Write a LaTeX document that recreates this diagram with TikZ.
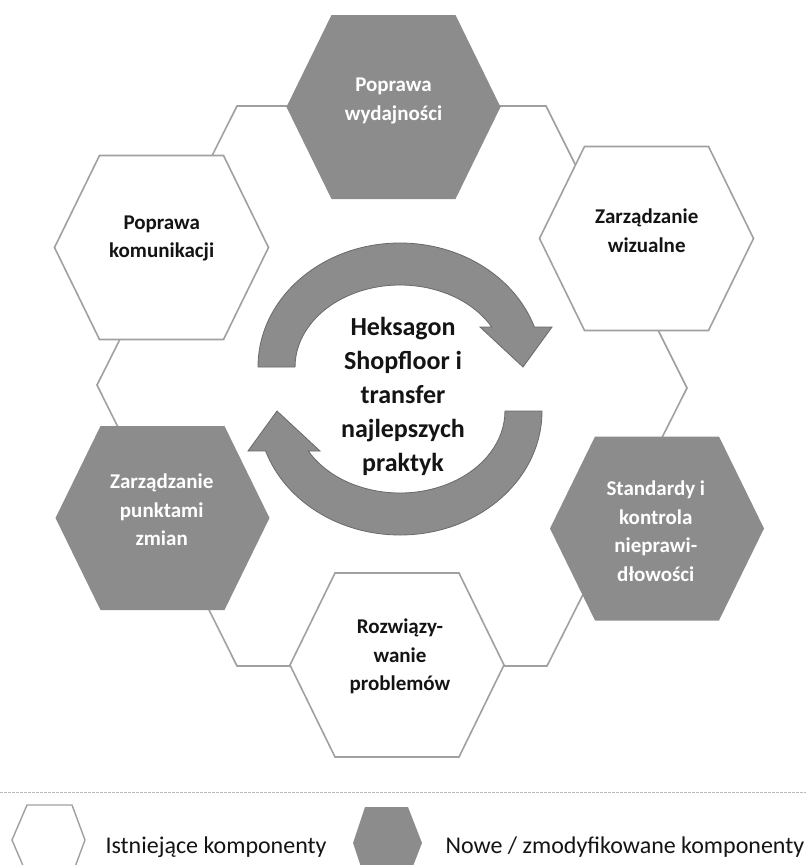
\documentclass[tikz,border=0pt]{standalone}
\usepackage{fontspec}
\setmainfont{Carlito}
\definecolor{hexgray}{RGB}{140,140,140}
\definecolor{linegray}{RGB}{160,160,160}
\definecolor{arrowedge}{RGB}{105,105,105}
\definecolor{txt}{RGB}{20,20,20}
\definecolor{dashgray}{RGB}{185,185,185}
\newcommand{\hexpoly}[3]{%
  \path[#3] (#1-107,#2) -- (#1-62,#2-92) -- (#1+62,#2-92) -- (#1+107,#2)
    -- (#1+62,#2+92) -- (#1-62,#2+92) -- cycle;}
\newcommand{\arrowshape}{%
  (258,367) arc[start angle=180, end angle=18.8, x radius=142pt, y radius=124pt]
  -- (552,327) -- (523,367) -- (480,327) -- (491.7,327)
  arc[start angle=29.2, end angle=180, x radius=105pt, y radius=82pt] -- cycle}
\begin{document}
\begin{tikzpicture}[x=1pt,y=-1pt,
  oldhex/.style={fill=white,draw=linegray,line width=1.6pt,line join=miter},
  newhex/.style={fill=hexgray},
  hextext/.style={align=center,font=\bfseries\fontsize{21}{28.5}\selectfont},
  centertext/.style={align=center,text=txt,font=\bfseries\fontsize{26}{34}\selectfont},
  legendtext/.style={anchor=base west,text=txt,font=\fontsize{24}{28}\selectfont},
  cyclearrow/.style={fill=hexgray,draw=arrowedge,line width=0.8pt,line join=miter}]
\useasboundingbox (0,0) rectangle (806,865);
\fill[white] (0,0) rectangle (806,865);
% ring outline
\coordinate (r1) at (237,106);
\coordinate (r2) at (546,106);
\coordinate (r3) at (687,388);
\coordinate (r4) at (547,666);
\coordinate (r5) at (237,666);
\coordinate (r6) at (97,385);
\draw[draw=linegray,line width=1.6pt] (r1) -- (r2) -- (r3) -- (r4) -- (r5) -- (r6) -- cycle;
% hexagons
\hexpoly{393.5}{107}{newhex}
\hexpoly{161.5}{247.5}{oldhex}
\hexpoly{646.5}{238.5}{oldhex}
\hexpoly{162.5}{518}{newhex}
\hexpoly{657}{528.5}{newhex}
\hexpoly{397}{665}{oldhex}
\node[hextext,text=white] (h1) at (393.5,101) {Poprawa\\wydajności};
\node[hextext,text=txt] (h2) at (161.7,238.5) {Poprawa\\komunikacji};
\node[hextext,text=txt] (h3) at (646.7,230.5) {Zarządzanie\\wizualne};
\node[hextext,text=white] (h4) at (161.7,510) {Zarządzanie\\punktami\\zmian};
\node[hextext,text=white] (h5) at (655.8,531) {Standardy i\\kontrola\\nieprawi-\\dłowości};
\node[hextext,text=txt] (h6) at (400,656.5) {Rozwiązy-\\wanie\\problemów};
% cycle arrows
\path[cyclearrow] \arrowshape;
\begin{scope}[rotate around={180:(400,389)}]
\path[cyclearrow] \arrowshape;
\end{scope}
\node[centertext] (c) at (403,396) {Heksagon\\Shopfloor i\\transfer\\najlepszych\\praktyk};
% legend
\coordinate (d1) at (0,792);
\coordinate (d2) at (806,792);
\draw[dashgray,line width=0.8pt,dash pattern=on 2.5pt off 1.5pt] (d1) -- (d2);
\path[fill=white,draw=linegray,line width=1.4pt] (12,840) -- (27,805) -- (72,805) -- (85,840) -- (72,875) -- (27,875) -- cycle;
\path[fill=hexgray] (353,843) -- (365,807) -- (408,807) -- (422,843) -- (408,879) -- (365,879) -- cycle;
\node[legendtext] (l1) at (102,853) {Istniejące komponenty};
\node[legendtext] (l2) at (442,853) {Nowe / zmodyfikowane komponenty};
\end{tikzpicture}
\end{document}
